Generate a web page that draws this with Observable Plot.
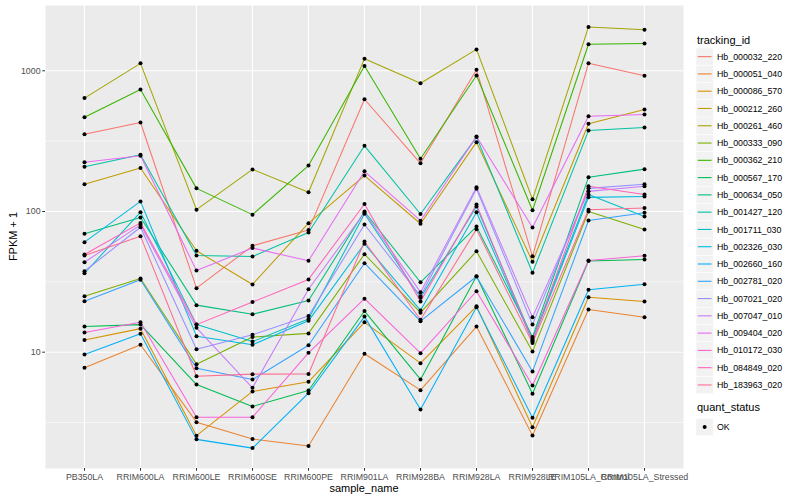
<!DOCTYPE html>
<html><head><meta charset="utf-8">
<script src="https://cdn.jsdelivr.net/npm/d3@7"></script>
<script src="https://cdn.jsdelivr.net/npm/@observablehq/plot@0.6"></script>
<style>body{margin:0;background:#fff;} #chart{position:relative;width:800px;height:500px;}</style>
</head><body><div id="chart"></div>
<script>
const samples = ["PB350LA","RRIM600LA","RRIM600LE","RRIM600SE","RRIM600PE","RRIM901LA","RRIM928BA","RRIM928LA","RRIM928LE","RRIM105LA_Control","RRIM105LA_Stressed"];
const trackingIds = ["Hb_000032_220","Hb_000051_040","Hb_000086_570","Hb_000212_260","Hb_000261_460","Hb_000333_090","Hb_000362_210","Hb_000567_170","Hb_000634_050","Hb_001427_120","Hb_001711_030","Hb_002326_030","Hb_002660_160","Hb_002781_020","Hb_007021_020","Hb_007047_010","Hb_009404_020","Hb_010172_030","Hb_084849_020","Hb_183963_020"];
const palette = ["#F8766D","#EA8331","#D89000","#C09B00","#A3A500","#7CAE00","#39B600","#00BB4E","#00BF7D","#00C1A3","#00BFC4","#00BAE0","#00B0F6","#35A2FF","#9590FF","#C77CFF","#E76BF3","#FA62DB","#FF62BC","#FF6C91"];

const hb_000032_220 = [354, 429, 28.5, 57, 74, 628, 220, 1016, 48, 1130, 921];
const hb_000051_040 = [7.75, 11.3, 3.18, 2.41, 2.15, 9.74, 5.37, 15.2, 2.56, 20.1, 17.7];
const hb_000086_570 = [12.2, 14.7, 2.55, 5.26, 6.16, 16.3, 8.35, 21.2, 2.93, 24.6, 22.9];
const hb_000212_260 = [156, 204, 52.6, 30.3, 82.6, 180, 81.8, 311, 44, 420, 531];
const hb_000261_460 = [640, 1130, 103, 199, 137, 1220, 815, 1420, 122, 2050, 1960];
const hb_000333_090 = [25.0, 33.4, 8.22, 12.8, 13.6, 49.7, 19.1, 52.2, 10.1, 100, 74.5];
const hb_000362_210 = [468, 736, 146, 95, 212, 1080, 237, 926, 102, 1545, 1565];
const hb_000567_170 = [15.2, 15.7, 5.89, 4.11, 5.34, 19.6, 6.40, 34.7, 5.06, 44.5, 45.6];
const hb_000634_050 = [69.4, 90.7, 21.6, 18.6, 23.3, 100, 31.4, 78.2, 12.8, 175, 200];
const hb_001427_120 = [208, 253, 48.7, 47.9, 71, 293, 96, 338, 36.7, 376, 395];
const hb_001711_030 = [36.4, 98.9, 15.7, 11.9, 17.2, 96.3, 24.4, 108.5, 12.4, 132, 92];
const hb_002326_030 = [60.5, 118, 13.0, 11.3, 16.7, 58.9, 19.8, 98.9, 12.0, 126, 128];
const hb_002660_160 = [9.63, 13.5, 2.40, 2.08, 5.11, 17.9, 3.91, 20.9, 3.42, 27.8, 30.4];
const hb_002781_020 = [23.0, 32.7, 7.7, 6.4, 11.2, 42.9, 16.6, 34.5, 7.3, 86.3, 97.9];
const hb_007021_020 = [37.6, 77.3, 10.5, 13.3, 18.1, 80.8, 25.0, 145, 15.7, 146, 156];
const hb_007047_010 = [43.6, 80.4, 14.9, 5.58, 28.0, 98.4, 26.7, 149, 17.7, 139, 151];
const hb_009404_020 = [224, 249, 38, 55, 44.6, 193, 86, 341, 77, 476, 489];
const hb_010172_030 = [13.8, 16.3, 3.45, 3.45, 9.9, 24.0, 9.84, 27.1, 5.8, 44.8, 48.4];
const hb_084849_020 = [49.5, 83, 15.7, 22.7, 32.9, 113, 22.9, 112, 12.0, 151, 132];
const hb_183963_020 = [48.7, 66.8, 6.75, 6.98, 7.0, 61.2, 17.0, 74.9, 11.6, 103, 106];

const seriesValues = [hb_000032_220, hb_000051_040, hb_000086_570, hb_000212_260, hb_000261_460, hb_000333_090, hb_000362_210, hb_000567_170, hb_000634_050, hb_001427_120, hb_001711_030, hb_002326_030, hb_002660_160, hb_002781_020, hb_007021_020, hb_007047_010, hb_009404_020, hb_010172_030, hb_084849_020, hb_183963_020];

const yTicks = [10, 100, 1000];
const yMinor = [Math.sqrt(10), Math.sqrt(1000), Math.sqrt(100000)];
const statusLevels = ["OK"];

const rows = [];
trackingIds.forEach((id, i) => samples.forEach((s, j) => rows.push({id, sample: s, value: seriesValues[i][j], status: "OK"})));

const font = "'Liberation Sans', Arial, Helvetica, sans-serif";
const svg = Plot.plot({
  width: 800, height: 500,
  marginLeft: 45, marginRight: 117, marginTop: 5, marginBottom: 32,
  style: {fontFamily: font, background: "white"},
  x: {type: "point", domain: samples, padding: 0.6},
  y: {type: "log", domain: [1.49, 2912]},
  color: {domain: trackingIds, range: palette},
  marks: [
    Plot.frame({fill: "#EBEBEB"}),
    Plot.gridY(yMinor, {stroke: "white", strokeOpacity: 1, strokeWidth: 0.55}),
    Plot.gridY(yTicks, {stroke: "white", strokeOpacity: 1, strokeWidth: 1.1}),
    Plot.gridX(samples, {stroke: "white", strokeOpacity: 1, strokeWidth: 1.1}),
    Plot.line(rows, {x: "sample", y: "value", z: "id", stroke: "id", strokeWidth: 1.05}),
    Plot.dot(rows, {x: "sample", y: "value", r: 2, fill: "black"}),
    Plot.axisY(yTicks, {tickSize: 2.75, tickPadding: 2.2, fontSize: 8.8, tickFormat: d => String(d), fill: "#4D4D4D", stroke: "#333333", label: null}),
    Plot.axisX({tickSize: 2.75, tickPadding: 2.2, fontSize: 8.8, fill: "#4D4D4D", stroke: "#333333", label: null})
  ]
});

const s = d3.select(svg);
s.append("text").attr("x", 364).attr("y", 492).attr("text-anchor", "middle")
  .attr("font-size", 11).attr("fill", "black").attr("font-family", font).text("sample_name");
s.append("text").attr("transform", "translate(13,236.5) rotate(-90)").attr("text-anchor", "middle")
  .attr("dy", "0.35em")
  .attr("font-size", 11).attr("fill", "black").attr("font-family", font).text("FPKM + 1");

const lg = s.append("g").attr("font-family", font).attr("text-anchor", "start");
const keyH = 17.28, keyX = 696, key0 = 48;
lg.append("text").attr("x", 697).attr("y", 44).attr("font-size", 11).attr("fill", "black").attr("text-anchor", "start").text("tracking_id");
trackingIds.forEach((id, i) => {
  const y = key0 + i * keyH;
  lg.append("rect").attr("x", keyX).attr("y", y).attr("width", keyH).attr("height", keyH)
    .attr("fill", "#F2F2F2").attr("stroke", "white").attr("stroke-width", 0.5);
  lg.append("line").attr("x1", keyX + 1.7).attr("x2", keyX + keyH - 1.7)
    .attr("y1", y + keyH / 2).attr("y2", y + keyH / 2)
    .attr("stroke", palette[i]).attr("stroke-width", 1.1);
  lg.append("text").attr("x", 717).attr("y", y + keyH / 2).attr("dy", "0.35em").attr("text-anchor", "start")
    .attr("font-size", 8.8).attr("fill", "black").text(id);
});
lg.append("text").attr("x", 697).attr("y", 411).attr("font-size", 11).attr("fill", "black").attr("text-anchor", "start").text("quant_status");
statusLevels.forEach((lv, i) => {
  const y = 418.4 + i * keyH;
  lg.append("rect").attr("x", keyX).attr("y", y).attr("width", keyH).attr("height", keyH)
    .attr("fill", "#F2F2F2").attr("stroke", "white").attr("stroke-width", 0.5);
  lg.append("circle").attr("cx", keyX + keyH / 2).attr("cy", y + keyH / 2).attr("r", 2).attr("fill", "black");
  lg.append("text").attr("x", 717).attr("y", y + keyH / 2).attr("dy", "0.35em").attr("text-anchor", "start")
    .attr("font-size", 8.8).attr("fill", "black").text(lv);
});

document.getElementById("chart").appendChild(svg);
</script>
</body></html>
